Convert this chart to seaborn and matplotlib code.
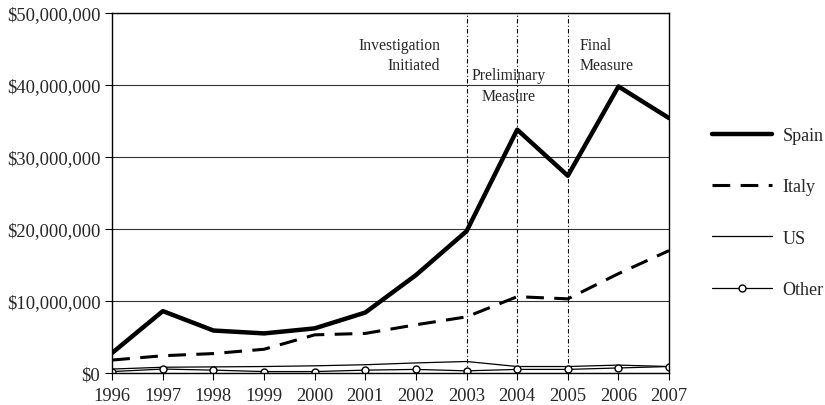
"""Import values by supplier country, 1996-2007, with trade-case milestones."""

import matplotlib.pyplot as plt
import matplotlib.ticker as mticker
import seaborn as sns

years = [1996, 1997, 1998, 1999, 2000, 2001, 2002, 2003, 2004, 2005, 2006, 2007]
spain = [2.8, 8.6, 5.9, 5.5, 6.2, 8.4, 13.6, 19.7, 33.8, 27.4, 39.8, 35.4]
italy = [1.8, 2.4, 2.7, 3.3, 5.3, 5.5, 6.7, 7.8, 10.6, 10.3, 13.8, 17.0]
us = [0.55, 0.8, 0.85, 0.9, 1.0, 1.15, 1.4, 1.6, 0.9, 0.9, 1.1, 0.9]
other = [0.2, 0.55, 0.4, 0.2, 0.2, 0.4, 0.5, 0.3, 0.5, 0.5, 0.7, 0.9]

# values are in millions of dollars
scale = 1_000_000

milestone_years = [2003, 2004, 2005]
milestone_labels = ["Investigation\nInitiated", "Preliminary\nMeasure", "Final\nMeasure"]

sns.set_style("white")
plt.rcParams["font.family"] = ["Liberation Serif", "DejaVu Serif"]

fig = plt.figure(figsize=(8.25, 4.06), dpi=100)
ax = fig.add_axes([0.136, 0.0788, 0.675, 0.8867])

# Horizontal gridlines
ax.set_axisbelow(True)
ax.grid(True, axis="y", color="#333333", linewidth=0.8)
ax.grid(False, axis="x")

# Milestone markers
for yr in milestone_years:
    ax.axvline(yr, color="black", linewidth=0.8, linestyle=(0, (4, 2, 1, 2)))

sns.lineplot(x=years, y=[v * scale for v in spain], ax=ax, color="black",
             linewidth=3.2, label="Spain")
sns.lineplot(x=years, y=[v * scale for v in italy], ax=ax, color="black",
             linewidth=2.2, linestyle=(0, (5.8, 3.4)), label="Italy")
sns.lineplot(x=years, y=[v * scale for v in us], ax=ax, color="black",
             linewidth=0.9, label="US")
sns.lineplot(x=years, y=[v * scale for v in other], ax=ax, color="black",
             linewidth=0.9, marker="o", markersize=5, markerfacecolor="white",
             markeredgecolor="black", markeredgewidth=1.0, label="Other")

# Milestone labels
ax.text(2002.48, 44.2 * scale, milestone_labels[0], ha="right", va="center",
        fontsize=11.3, linespacing=1.35)
ax.text(2003.83, 39.9 * scale, milestone_labels[1], ha="center", va="center",
        fontsize=11.3, linespacing=1.4, multialignment="center")
ax.text(2005.23, 44.2 * scale, milestone_labels[2], ha="left", va="center",
        fontsize=11.3, linespacing=1.35)

ax.set_xlim(years[0], years[-1])
ax.set_ylim(0, 50 * scale)
ax.set_xticks(years)
ax.set_yticks([i * 10 * scale for i in range(6)])
ax.yaxis.set_major_formatter(mticker.StrMethodFormatter("${x:,.0f}"))
ax.tick_params(axis="both", direction="out", length=5, width=0.8,
               labelsize=13.3, color="black", bottom=True, left=True)
ax.tick_params(axis="y", pad=3.5)
ax.tick_params(axis="x", pad=5)
ax.set_xlabel("")
ax.set_ylabel("")

for spine in ax.spines.values():
    spine.set_color("black")
    spine.set_linewidth(1.0)
    spine.set_visible(True)

ax.legend(loc="center left", bbox_to_anchor=(0.863, 0.474),
          bbox_transform=fig.transFigure, frameon=False, fontsize=13,
          handlelength=3.3, handletextpad=0.6, labelspacing=1.9,
          borderpad=0, borderaxespad=0, numpoints=1)

fig.savefig("out.png", dpi=100)
plt.close(fig)
